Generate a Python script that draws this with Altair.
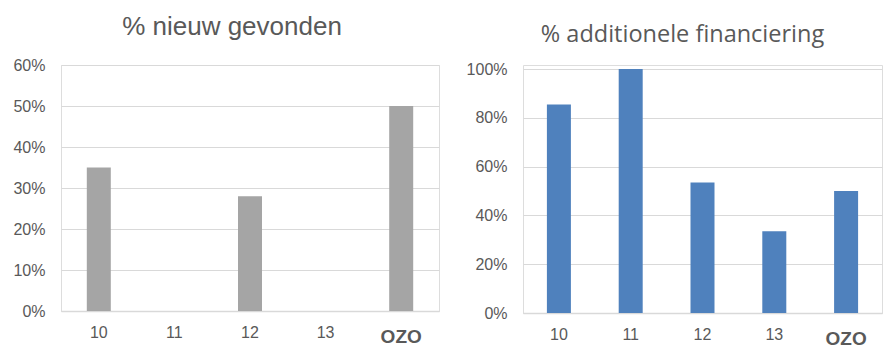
import altair as alt
import pandas as pd

categories = ["10", "11", "12", "13", "OZO"]
nieuw_gevonden = [0.35, 0.0, 0.28, 0.0, 0.50]
additionele_financiering = [0.855, 1.0, 0.535, 0.335, 0.50]

df_left = pd.DataFrame({"cat": categories, "value": nieuw_gevonden})
df_right = pd.DataFrame({"cat": categories, "value": additionele_financiering})

TEXT = "#595959"
GRID = "#d9d9d9"
LABEL_FONT = "Liberation Sans"

is_ozo = "datum.label == 'OZO'"


def panel(df, color, title, title_font, title_size, domain, ticks, width, height, dx, toff):
    x = alt.X(
        "cat:N",
        sort=categories,
        title=None,
        scale=alt.Scale(paddingInner=0, paddingOuter=0),
        axis=alt.Axis(
            labelAngle=0,
            labelColor=TEXT,
            labelFont=LABEL_FONT,
            labelFontSize=alt.expr(f"{is_ozo} ? 19 : 16"),
            labelFontWeight=alt.expr(f"{is_ozo} ? 'bold' : 'normal'"),
            labelPadding=alt.expr(f"{is_ozo} ? 16 : 13"),
            ticks=False,
            domain=True,
            domainColor=GRID,
            domainWidth=1.5,
            grid=False,
        ),
    )
    y = alt.Y(
        "value:Q",
        title=None,
        scale=alt.Scale(domain=domain, nice=False),
        axis=alt.Axis(
            values=ticks,
            format=".0%",
            labelColor=TEXT,
            labelFont=LABEL_FONT,
            labelFontSize=16,
            labelPadding=16,
            ticks=False,
            domain=False,
            grid=True,
            gridColor=GRID,
            gridWidth=1,
        ),
    )
    return (
        alt.Chart(df)
        .mark_bar(color=color, size=24)
        .encode(x=x, y=y)
        .properties(
            width=width,
            height=height,
            title=alt.TitleParams(
                title,
                font=title_font,
                fontSize=title_size,
                fontWeight="normal",
                color=TEXT,
                anchor="middle",
                dx=dx,
                offset=toff,
            ),
        )
    )


left = panel(
    df_left, "#a5a5a5", "% nieuw gevonden", "Liberation Sans", 26,
    [0, 0.6], [0, 0.1, 0.2, 0.3, 0.4, 0.5, 0.6], 378, 246, -18, 17,
)
# a little headroom above the 100% line so this plot sits slightly lower
right = panel(
    df_right, "#4f81bd", "% additionele financiering", "Open Sans", 23.5,
    [0, 1.0164], [0, 0.2, 0.4, 0.6, 0.8, 1.0], 359, 248, -20, 15,
)

chart = (
    alt.hconcat(left, right, spacing=25)
    .properties(padding={"left": 12, "top": 13, "right": 0, "bottom": 0})
    .configure_view(strokeWidth=0)
    .configure(background="white")
)

chart.save("out.html", embed_options={"renderer": "svg", "actions": False})
